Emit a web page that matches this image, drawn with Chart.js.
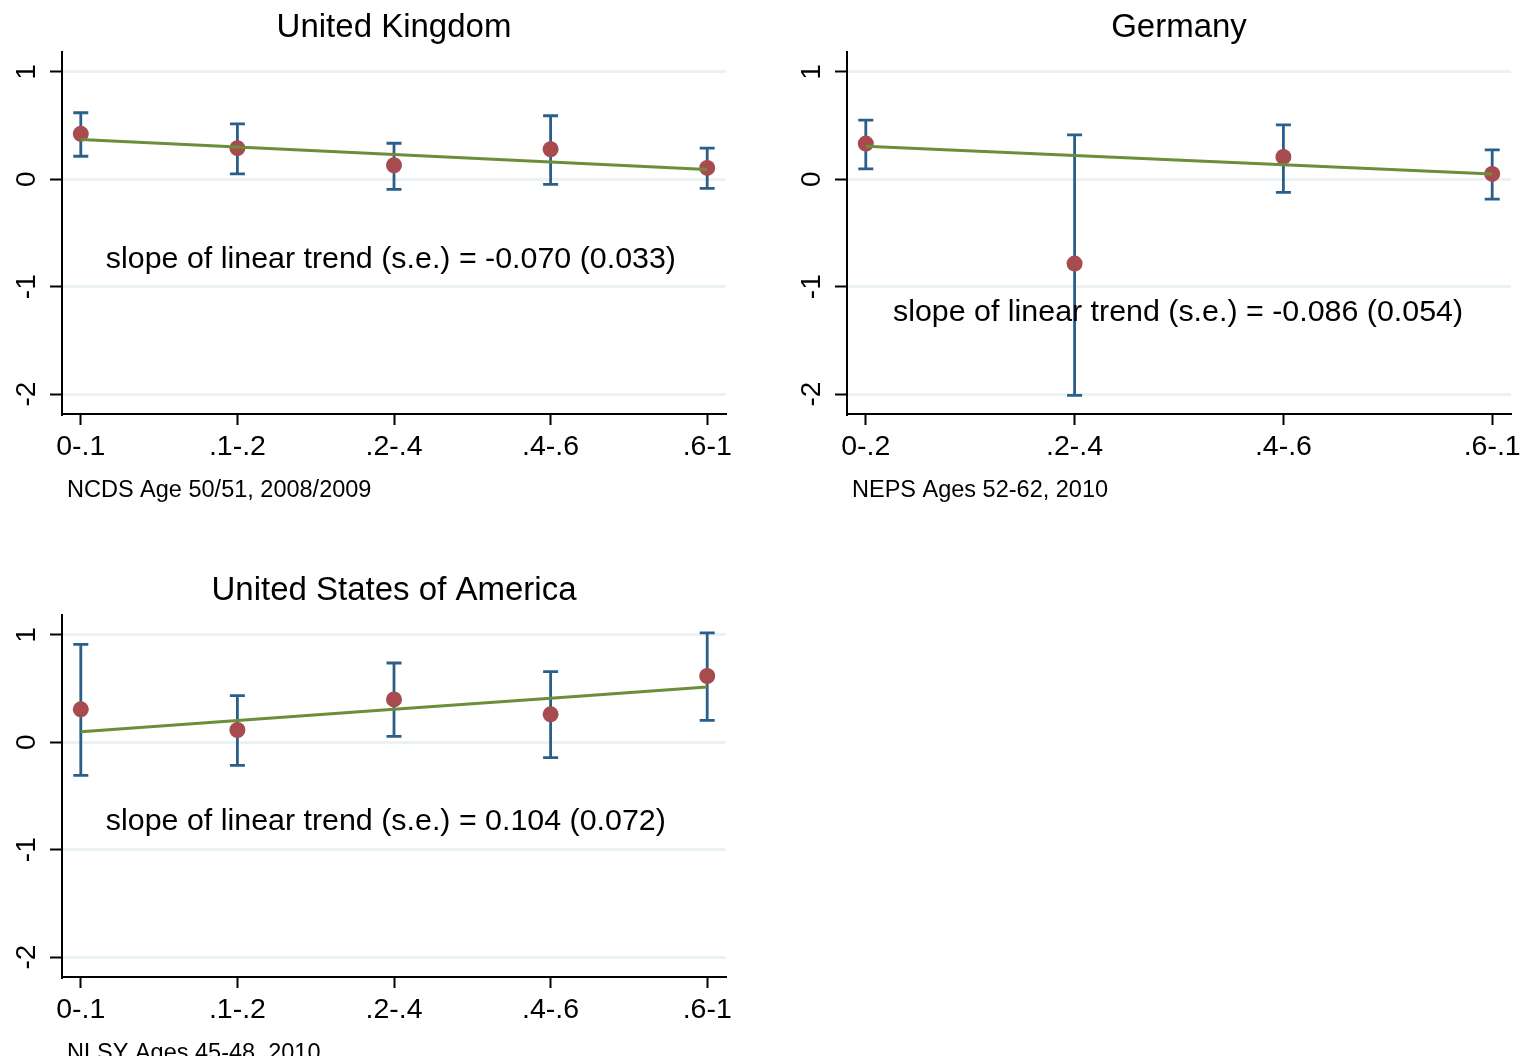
<!DOCTYPE html>
<html>
<head>
<meta charset="utf-8">
<script src="https://cdn.jsdelivr.net/npm/chart.js@4/dist/chart.umd.min.js"></script>
<style>
  html, body { margin: 0; padding: 0; background: #fff; overflow: hidden; width: 1528px; height: 1056px; }
  .panel { position: absolute; width: 743px; height: 530px; }
</style>
</head>
<body>
<div class="panel" style="left:0;top:0"><canvas id="uk" width="743" height="530"></canvas></div>
<div class="panel" style="left:785px;top:0"><canvas id="de" width="743" height="530"></canvas></div>
<div class="panel" style="left:0;top:563px"><canvas id="us" width="743" height="530"></canvas></div>
<script>
// --- data ---
const ukCats = ['0-.1', '.1-.2', '.2-.4', '.4-.6', '.6-1'];
const ukEst  = [0.424, 0.290, 0.131, 0.280, 0.106];
const ukLo   = [0.215, 0.050, -0.093, -0.047, -0.084];
const ukHi   = [0.620, 0.517, 0.336, 0.592, 0.290];
const ukFit  = [0.371, 0.301, 0.231, 0.161, 0.091];

const deCats = ['0-.2', '.2-.4', '.4-.6', '.6-.1'];
const deEst  = [0.333, -0.785, 0.209, 0.050];
const deLo   = [0.097, -2.012, -0.121, -0.184];
const deHi   = [0.551, 0.414, 0.508, 0.274];
const deFit  = [0.308, 0.222, 0.136, 0.050];

const usCats = ['0-.1', '.1-.2', '.2-.4', '.4-.6', '.6-1'];
const usEst  = [0.307, 0.115, 0.400, 0.261, 0.618];
const usLo   = [-0.307, -0.214, 0.056, -0.143, 0.205];
const usHi   = [0.913, 0.435, 0.739, 0.658, 1.019];
const usFit  = [0.099, 0.203, 0.307, 0.411, 0.515];

const yTicks = [-2, -1, 0, 1];

const FONT = '"Liberation Sans", Arial, Helvetica, sans-serif';
const RED = '#a84b4f';
const BLUE = '#2a5f8b';
const GREEN = '#6b8e3a';
const GRID = '#eaf2f3';

// error bars under the points
const errorBars = {
    id: 'errorBars',
    beforeDatasetsDraw(chart) {
        const { ctx, scales: { x, y } } = chart;
        const ds = chart.data.datasets[0];
        ctx.save();
        ctx.strokeStyle = BLUE;
        ctx.lineWidth = 2.8;
        ds.data.forEach((p, i) => {
            const px = x.getPixelForValue(p.x);
            const top = y.getPixelForValue(ds.hi[i]);
            const bot = y.getPixelForValue(ds.lo[i]);
            ctx.beginPath();
            ctx.moveTo(px, top); ctx.lineTo(px, bot);
            ctx.moveTo(px - 7.5, top); ctx.lineTo(px + 7.5, top);
            ctx.moveTo(px - 7.5, bot); ctx.lineTo(px + 7.5, bot);
            ctx.stroke();
        });
        ctx.restore();
    }
};

// title, rotated y labels, slope text, source note
const extraText = {
    id: 'extraText',
    afterDraw(chart) {
        const { ctx, chartArea, scales: { x, y } } = chart;
        const o = chart.options.plugins.extraText;
        ctx.save();
        ctx.fillStyle = '#000';
        ctx.textBaseline = 'alphabetic';

        ctx.textAlign = 'center';
        ctx.font = '33px ' + FONT;
        ctx.fillText(o.title, (chartArea.left + chartArea.right) / 2, chartArea.top - 15);

        ctx.font = '28px ' + FONT;
        y.ticks.forEach(t => {
            ctx.save();
            ctx.translate(chartArea.left - 27, y.getPixelForValue(t.value));
            ctx.rotate(-Math.PI / 2);
            ctx.fillText(String(t.value), 0, 0);
            ctx.restore();
        });

        ctx.textAlign = 'left';
        ctx.font = '30.4px ' + FONT;
        ctx.fillText(o.label, x.getPixelForValue(o.labelX), y.getPixelForValue(o.labelY));

        ctx.font = '23.5px ' + FONT;
        ctx.fillText(o.note, chartArea.left + 5, chartArea.bottom + 83);
        ctx.restore();
    }
};

function makePanel(id, title, cats, est, lo, hi, fit, note, label, labelX, labelY) {
    const n = cats.length;
    const pad = n === 5 ? 0.12 : 0.09;
    return new Chart(document.getElementById(id), {
        type: 'scatter',
        data: {
            datasets: [{
                data: est.map((v, i) => ({ x: i, y: v })),
                lo: lo,
                hi: hi,
                backgroundColor: RED,
                borderWidth: 0,
                pointRadius: 8,
                order: 2
            }, {
                type: 'line',
                data: fit.map((v, i) => ({ x: i, y: v })),
                borderColor: GREEN,
                borderWidth: 3,
                pointRadius: 0,
                fill: false,
                order: 1
            }]
        },
        options: {
            responsive: false,
            animation: false,
            layout: { padding: { left: 0, right: 17, top: 52, bottom: 0 } },
            plugins: {
                legend: { display: false },
                tooltip: { enabled: false },
                title: { display: false },
                extraText: { title: title, label: label, labelX: labelX, labelY: labelY, note: note }
            },
            scales: {
                x: {
                    type: 'linear',
                    min: -pad,
                    max: n - 1 + pad,
                    afterBuildTicks: s => { s.ticks = cats.map((c, i) => ({ value: i })); },
                    afterFit: s => { s.height = 116; },
                    ticks: {
                        callback: v => cats[v],
                        color: '#000',
                        font: { family: FONT, size: 28.5 },
                        padding: 5,
                        maxRotation: 0,
                        autoSkip: false
                    },
                    grid: { drawOnChartArea: false, drawTicks: true, tickLength: 11, tickColor: '#000', tickWidth: 2 },
                    border: { display: true, color: '#000', width: 2 }
                },
                y: {
                    min: -2.186,
                    max: 1.186,
                    afterBuildTicks: s => { s.ticks = yTicks.map(v => ({ value: v })); },
                    afterFit: s => { s.width = 62; },
                    ticks: { color: 'rgba(0,0,0,0)', font: { size: 10 } },
                    grid: { color: GRID, lineWidth: 3, drawTicks: true, tickLength: 12, tickColor: '#000', tickWidth: 2 },
                    border: { display: true, color: '#000', width: 2 }
                }
            }
        },
        plugins: [errorBars, extraText]
    });
}

makePanel('uk', 'United Kingdom', ukCats, ukEst, ukLo, ukHi, ukFit,
    'NCDS Age 50/51, 2008/2009', 'slope of linear trend (s.e.) = -0.070 (0.033)', 0.16, -0.83);
makePanel('de', 'Germany', deCats, deEst, deLo, deHi, deFit,
    'NEPS Ages 52-62, 2010', 'slope of linear trend (s.e.) = -0.086 (0.054)', 0.13, -1.32);
makePanel('us', 'United States of America', usCats, usEst, usLo, usHi, usFit,
    'NLSY Ages 45-48, 2010', 'slope of linear trend (s.e.) = 0.104 (0.072)', 0.16, -0.82);
</script>
</body>
</html>
